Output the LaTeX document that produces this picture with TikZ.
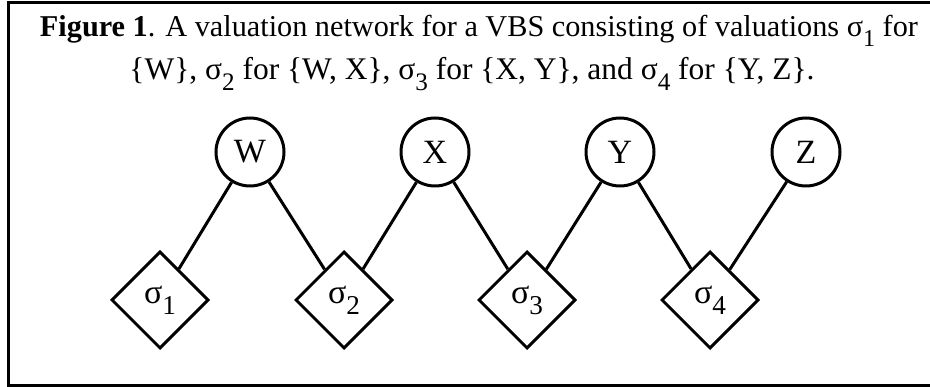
\documentclass[tikz,border=0pt]{standalone}
\usepackage{fontspec}
\setmainfont{Liberation Serif}
\usetikzlibrary{shapes.geometric}
\newcommand{\mysub}[1]{\raisebox{-0.32em}{\fontsize{0.8em}{0.8em}\selectfont #1}}
\tikzset{
  var/.style={circle, draw, line width=3pt, minimum size=68pt, inner sep=0pt, font=\fontsize{34}{36}\selectfont},
  val/.style={diamond, draw, line width=3pt, minimum width=97pt, minimum height=97pt, inner sep=0pt, font=\fontsize{34}{36}\selectfont},
  edge/.style={line width=3pt},
  frame/.style={line width=3pt},
  capline/.style={anchor=base, inner sep=0pt, font=\fontsize{31}{36}\selectfont}
}
\begin{document}
\begin{tikzpicture}[x=1pt,y=-1pt]
\useasboundingbox (0,0) rectangle (930,387);
\draw[frame] (960,3) -- (8,3) -- (8,385.5) -- (960,385.5);
\node[capline] (cap1) at (479,37)
 {\resizebox{878pt}{!}{\textbf{Figure 1}. A valuation network for a VBS consisting of valuations σ\mysub{1} for}};
\node[capline] (cap2) at (472,80)
 {\resizebox{685pt}{!}{\{W\}, σ\mysub{2} for \{W, X\}, σ\mysub{3} for \{X, Y\}, and σ\mysub{4} for \{Y, Z\}.}};
\node[var] (W) at (250,152) {W};
\node[var] (X) at (435,152) {X};
\node[var] (Y) at (620,152) {Y};
\node[var] (Z) at (806,152) {Z};
\node[val] (s1) at (160,300) {σ\mysub{1}};
\node[val] (s2) at (344,300) {σ\mysub{2}};
\node[val] (s3) at (527,300) {σ\mysub{3}};
\node[val] (s4) at (710,300) {σ\mysub{4}};
\draw[edge] (W) -- (s1);
\draw[edge] (W) -- (s2);
\draw[edge] (X) -- (s2);
\draw[edge] (X) -- (s3);
\draw[edge] (Y) -- (s3);
\draw[edge] (Y) -- (s4);
\draw[edge] (Z) -- (s4);
\end{tikzpicture}
\end{document}
